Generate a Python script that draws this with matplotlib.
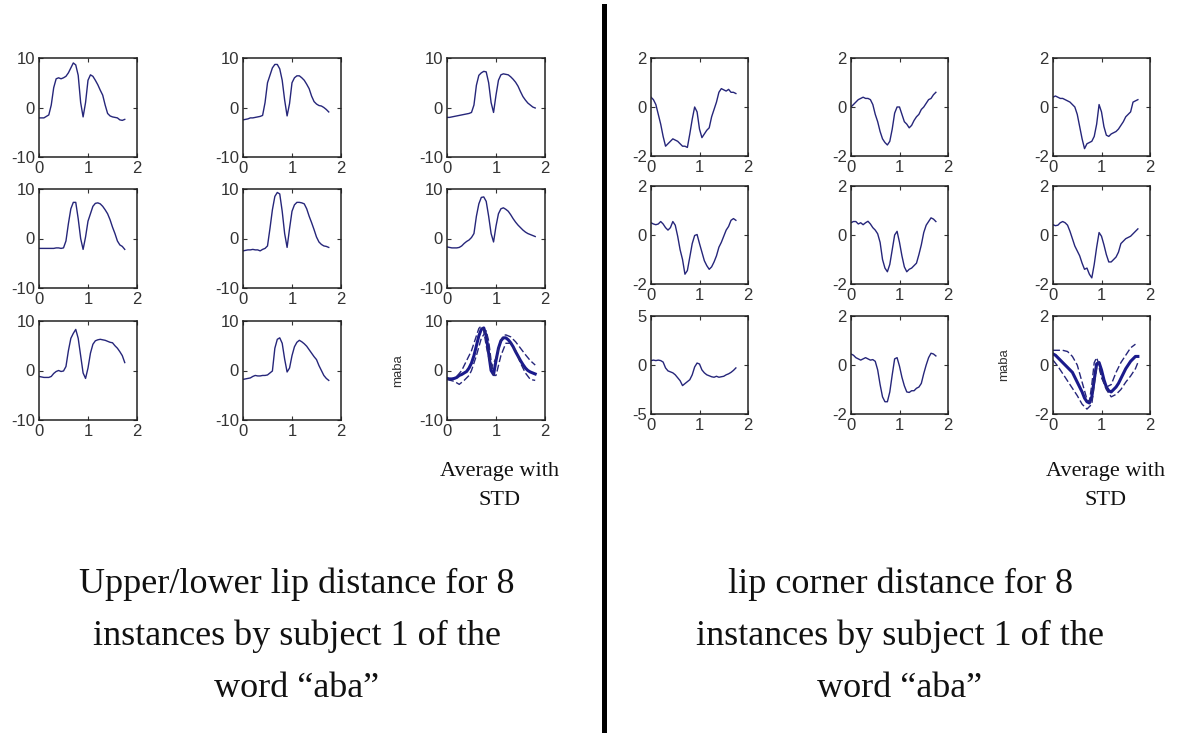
import numpy as np
import matplotlib
matplotlib.use('Agg')
import matplotlib.pyplot as plt
from matplotlib.lines import Line2D

# ---------------- data (sampled every 0.05 s) ----------------
DT = 0.05

# Upper/lower lip distance, 8 instances
ud_1 = [-2.1,-2.1,-2.1,-1.8,-1.5,0.5,4.0,5.8,6.0,5.8,6.0,6.3,7.0,8.0,9.0,8.6,6.5,1.0,-1.9,1.0,
        5.5,6.6,6.3,5.5,4.6,3.5,2.5,0.5,-1.2,-1.7,-1.9,-2.0,-2.1,-2.5,-2.6,-2.4]
ud_2 = [-2.5,-2.4,-2.3,-2.1,-2.1,-2.0,-1.9,-1.8,-1.6,1.0,5.0,6.5,8.0,8.7,8.7,7.8,5.5,1.5,-1.7,0.8,
        5.0,6.0,6.4,6.4,6.0,5.5,4.7,3.8,2.3,1.2,0.7,0.4,0.3,0.0,-0.4,-0.9]
ud_3 = [-2.0,-2.0,-1.9,-1.8,-1.7,-1.6,-1.5,-1.4,-1.3,-1.2,-1.0,0.5,4.5,6.5,7.0,7.3,7.2,5.0,1.0,-1.0,
        2.5,5.5,6.6,6.8,6.7,6.6,6.2,5.7,5.1,4.3,3.2,2.2,1.5,0.9,0.5,0.1,-0.1]
ud_4 = [-2.0,-2.0,-2.0,-2.0,-2.0,-2.0,-2.0,-1.9,-1.9,-2.0,-1.9,-0.5,3.0,6.0,7.3,7.3,4.0,0.0,-2.2,0.3,
        3.5,5.0,6.5,7.1,7.2,7.0,6.5,5.8,5.0,3.8,2.3,1.0,-0.5,-1.3,-1.6,-2.2]
ud_5 = [-2.5,-2.4,-2.3,-2.3,-2.2,-2.3,-2.3,-2.5,-2.2,-2.0,-1.5,2.0,5.8,8.5,9.3,9.0,5.5,1.0,-1.8,2.0,
        5.5,6.8,7.3,7.3,7.2,7.0,6.0,4.5,3.2,1.8,0.3,-0.7,-1.2,-1.5,-1.6,-1.8]
ud_6 = [-1.7,-1.8,-1.9,-1.9,-1.9,-1.8,-1.5,-1.0,-0.6,-0.3,0.2,1.0,4.5,7.0,8.3,8.4,7.5,4.5,1.0,-0.7,
        2.5,5.0,6.0,6.2,5.9,5.5,4.8,4.0,3.3,2.7,2.2,1.7,1.3,1.0,0.8,0.6,0.4]
ud_7 = [-1.2,-1.3,-1.4,-1.4,-1.4,-1.2,-0.6,-0.2,0.0,-0.2,-0.1,0.8,4.0,6.5,7.5,8.3,6.5,3.0,-0.5,-1.6,
        0.5,3.5,5.3,6.0,6.2,6.3,6.2,6.1,5.9,5.7,5.6,5.0,4.5,3.8,3.0,1.6]
ud_8 = [-1.8,-1.7,-1.6,-1.5,-1.2,-1.0,-1.1,-1.1,-1.0,-1.0,-0.9,-0.5,-0.1,4.5,6.3,6.6,5.5,2.3,-0.3,0.5,
        3.0,4.8,5.7,6.1,5.8,5.4,4.9,4.2,3.5,2.8,2.2,1.0,0.0,-1.0,-1.6,-2.0]
ud_mean = [-1.6,-1.7,-1.7,-1.6,-1.4,-1.0,-0.8,-0.5,-0.2,0.5,1.5,3.0,5.0,7.0,8.3,8.6,7.0,3.5,0.0,-0.8,
           2.0,4.5,6.0,6.6,6.6,6.2,5.6,4.8,3.8,2.9,2.0,1.2,0.5,0.0,-0.3,-0.5,-0.7]
ud_up_t = [0.2,0.3,0.4,0.5,0.6,0.65,0.7,0.75,0.8,0.9,1.0,1.1,1.15,1.2,1.3,1.4,1.5,1.6,1.7,1.8]
ud_up   = [-1.2,0.0,2.0,4.0,7.0,8.5,9.0,8.0,5.0,0.5,2.5,6.0,7.0,7.2,6.8,5.8,4.5,3.2,2.0,1.1]
ud_lo_t = [0.0,0.15,0.25,0.35,0.45,0.5,0.6,0.7,0.8,0.85,0.9,0.95,1.0,1.05,1.1,1.2,1.3,1.4,1.5,1.6,1.7,1.8]
ud_lo   = [-1.8,-2.2,-2.8,-2.0,-1.0,0.0,3.0,6.5,8.0,6.0,2.0,-1.0,-1.0,1.0,3.0,5.5,5.5,4.0,1.5,-0.5,-1.8,-2.0]

# Lip corner distance, 8 instances
lc_1 = [0.4,0.3,0.1,-0.3,-0.7,-1.2,-1.6,-1.5,-1.4,-1.3,-1.35,-1.4,-1.5,-1.6,-1.6,-1.65,-1.1,-0.5,0.0,-0.2,
        -0.9,-1.25,-1.1,-0.95,-0.85,-0.4,-0.1,0.2,0.6,0.75,0.7,0.65,0.72,0.6,0.6,0.55]
lc_2 = [0.0,0.1,0.2,0.3,0.35,0.4,0.35,0.35,0.3,0.1,-0.3,-0.6,-1.0,-1.3,-1.45,-1.55,-1.4,-0.9,-0.25,0.0,
        0.0,-0.3,-0.6,-0.7,-0.85,-0.75,-0.55,-0.4,-0.3,-0.1,0.0,0.15,0.3,0.35,0.5,0.6]
lc_3 = [0.4,0.45,0.4,0.35,0.35,0.3,0.25,0.2,0.1,0.0,-0.3,-0.8,-1.3,-1.7,-1.5,-1.45,-1.4,-1.2,-0.7,0.1,
        -0.2,-0.8,-1.15,-1.2,-1.1,-1.05,-1.0,-0.9,-0.75,-0.6,-0.4,-0.3,-0.2,0.2,0.25,0.3]
lc_4 = [0.5,0.45,0.42,0.45,0.55,0.45,0.3,0.2,0.3,0.55,0.4,-0.05,-0.6,-1.0,-1.6,-1.45,-0.9,-0.35,-0.02,0.02,
        -0.35,-0.7,-1.05,-1.25,-1.4,-1.3,-1.1,-0.85,-0.5,-0.3,-0.05,0.2,0.35,0.6,0.67,0.6]
lc_5 = [0.5,0.55,0.55,0.45,0.5,0.42,0.5,0.56,0.45,0.3,0.2,0.05,-0.3,-1.0,-1.35,-1.5,-1.2,-0.6,0.0,0.15,
        -0.3,-0.85,-1.3,-1.5,-1.4,-1.35,-1.25,-1.15,-0.8,-0.4,0.1,0.4,0.55,0.7,0.65,0.55]
lc_6 = [0.42,0.38,0.4,0.5,0.55,0.5,0.4,0.15,-0.15,-0.45,-0.65,-0.85,-1.15,-1.4,-1.35,-1.6,-1.75,-1.2,-0.5,0.1,
        -0.05,-0.4,-0.8,-1.1,-1.1,-1.0,-0.9,-0.7,-0.35,-0.25,-0.15,-0.1,-0.05,0.05,0.15,0.25]
lc_7 = [0.45,0.5,0.45,0.5,0.45,0.3,-0.3,-0.6,-0.7,-0.8,-1.0,-1.3,-1.6,-2.1,-1.9,-1.7,-1.5,-1.0,-0.2,0.2,
        0.1,-0.5,-0.8,-1.0,-1.1,-1.2,-1.25,-1.15,-1.25,-1.2,-1.15,-1.0,-0.9,-0.75,-0.55,-0.3]
lc_8 = [0.45,0.4,0.3,0.25,0.2,0.25,0.3,0.25,0.2,0.22,0.15,-0.2,-0.8,-1.3,-1.5,-1.5,-1.1,-0.4,0.25,0.3,
        -0.05,-0.5,-0.85,-1.1,-1.12,-1.05,-1.05,-0.95,-0.9,-0.75,-0.35,0.0,0.3,0.48,0.45,0.37]
lc_mean = [0.45,0.4,0.3,0.2,0.1,0.0,-0.1,-0.2,-0.3,-0.5,-0.7,-0.9,-1.1,-1.35,-1.5,-1.55,-1.3,-0.6,0.05,0.1,
           -0.2,-0.6,-0.9,-1.05,-1.1,-1.0,-0.9,-0.75,-0.55,-0.35,-0.15,0.0,0.15,0.25,0.35,0.35]
lc_up_t = [0.0,0.1,0.2,0.3,0.4,0.5,0.6,0.7,0.75,0.8,0.85,0.9,0.95,1.0,1.1,1.2,1.3,1.4,1.5,1.6,1.7]
lc_up   = [0.6,0.6,0.6,0.55,0.35,0.0,-0.7,-1.4,-1.5,-0.8,0.1,0.3,0.0,-0.5,-0.9,-0.8,-0.3,0.1,0.4,0.7,0.85]
lc_lo_t = [0.0,0.1,0.2,0.3,0.4,0.5,0.6,0.7,0.8,0.85,0.9,0.95,1.0,1.1,1.2,1.3,1.4,1.5,1.6,1.7,1.75]
lc_lo   = [0.2,-0.05,-0.35,-0.65,-0.95,-1.25,-1.6,-1.8,-1.6,-0.8,-0.1,-0.1,-0.5,-1.0,-1.3,-1.2,-1.0,-0.7,-0.45,-0.15,0.1]

x_ticks = [0, 1, 2]
ud_ticks = [-10, 0, 10]
lc_ticks = [-2, 0, 2]
lc_ticks_wide = [-5, 0, 5]

title_left = "Upper/lower lip distance for 8\ninstances by subject 1 of the\nword \u201caba\u201d"
title_right = "lip corner distance for 8\ninstances by subject 1 of the\nword \u201caba\u201d"
avg_label = "Average with\nSTD"
ylab = "maba"

# ---------------- layout ----------------
W, H = 1189, 733
fig = plt.figure(figsize=(W / 100, H / 100), dpi=100)
fig.patch.set_facecolor('white')

LINE = '#26267a'


def add_ax(left, top, w, h):
    return fig.add_axes([left / W, 1 - (top + h) / H, w / W, h / H])


def style(ax, yt):
    ax.set_xlim(0, 2)
    ax.set_ylim(yt[0], yt[-1])
    ax.set_xticks(x_ticks)
    ax.set_yticks(yt)
    ax.set_xticklabels([str(v) for v in x_ticks])
    ax.set_yticklabels([str(v) for v in yt])
    ax.tick_params(direction='in', top=True, right=True, length=3, width=0.8,
                   labelsize=12, pad=3, colors='#333333')
    for lab in ax.get_xticklabels() + ax.get_yticklabels():
        lab.set_fontfamily('Liberation Sans')
    for s in ax.spines.values():
        s.set_linewidth(1.1)
        s.set_color('#222222')


def tline(y):
    return np.arange(len(y)) * DT


left_cols = [39, 243, 447]
left_rows = [58, 189, 321]
right_cols = [651, 851, 1053]
right_rows = [58, 186, 316]

ud_series = [ud_1, ud_2, ud_3, ud_4, ud_5, ud_6, ud_7, ud_8]
lc_series = [lc_1, lc_2, lc_3, lc_4, lc_5, lc_6, lc_7, lc_8]
lc_row_ticks = [lc_ticks, lc_ticks, lc_ticks_wide]

k = 0
for r in range(3):
    for c in range(3):
        ax = add_ax(left_cols[c], left_rows[r], 98, 99)
        if k < 8:
            ax.plot(tline(ud_series[k]), ud_series[k], color=LINE, lw=1.0)
        else:
            ax.plot(tline(ud_mean), ud_mean, color='#1a1a8c', lw=2.2)
            ax.plot(ud_up_t, ud_up, color=LINE, lw=1.0, ls=(0, (5, 2)))
            ax.plot(ud_lo_t, ud_lo, color=LINE, lw=1.0, ls=(0, (5, 2)))
            ax.set_ylabel(ylab, fontsize=9.5, family='Liberation Sans', color='#333333')
            ax.yaxis.set_label_coords(-0.44, 0.5)
        style(ax, ud_ticks)
        k += 1

k = 0
for r in range(3):
    for c in range(3):
        ax = add_ax(right_cols[c], right_rows[r], 97, 98)
        if k < 8:
            ax.plot(tline(lc_series[k]), lc_series[k], color=LINE, lw=1.0)
            yt = lc_row_ticks[r] if c == 0 else lc_ticks
        else:
            ax.plot(tline(lc_mean), lc_mean, color='#1a1a8c', lw=2.2)
            ax.plot(lc_up_t, lc_up, color=LINE, lw=1.0, ls=(0, (5, 2)))
            ax.plot(lc_lo_t, lc_lo, color=LINE, lw=1.0, ls=(0, (5, 2)))
            ax.set_ylabel(ylab, fontsize=9.5, family='Liberation Sans', color='#333333')
            ax.yaxis.set_label_coords(-0.44, 0.5)
            yt = lc_ticks
        style(ax, yt)
        k += 1

# "Average with STD" captions
for cx in (500, 1105):
    fig.text(cx / W, 1 - 486 / H, avg_label, ha='center', va='center',
             family='Liberation Serif', fontsize=16, linespacing=1.75, color='#111111')

# Big titles
fig.text(297 / W, 1 - 636 / H, title_left, ha='center', va='center',
         family='Liberation Serif', fontsize=26, linespacing=1.74, color='#111111')
fig.text(900 / W, 1 - 636 / H, title_right, ha='center', va='center',
         family='Liberation Serif', fontsize=26, linespacing=1.74, color='#111111')

# Divider
fig.add_artist(Line2D([604 / W, 604 / W], [1 - 6 / H, 0], transform=fig.transFigure,
                      color='black', lw=3.6))

fig.savefig('out.png', dpi=100, facecolor='white')
